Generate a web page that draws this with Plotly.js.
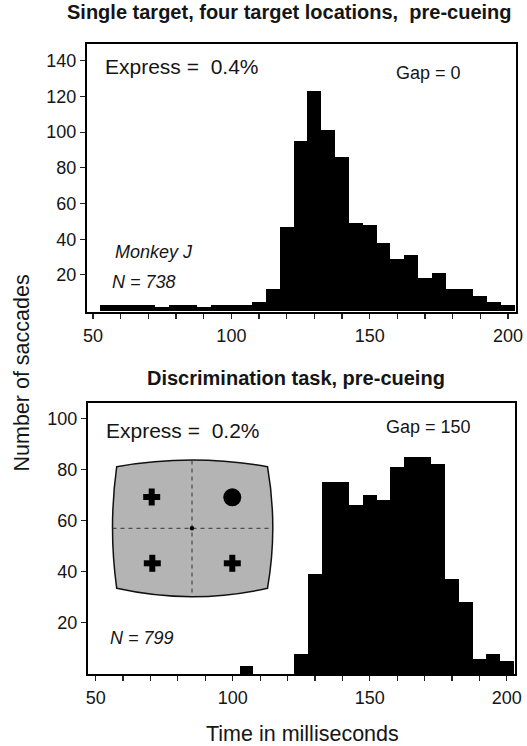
<!DOCTYPE html>
<html>
<head>
<meta charset="utf-8">
<script src="https://cdn.plot.ly/plotly-3.0.1.min.js"></script>
<style>html,body{margin:0;padding:0;background:#fff;}#chart{width:527px;height:746px;}</style>
</head>
<body>
<div id="chart"></div>
<script>
// ---- data (5 ms bins, bin centres in ms) ----
const binCenters = [55,60,65,70,75,80,85,90,95,100,105,110,115,120,125,130,135,140,145,150,155,160,165,170,175,180,185,190,195,200];
const topCounts = [3,3,3,3,2,3,3,2,3,3,3,5,12,47,95,123,101,86,49,48,38,29,31,18,21,12,12,8,5,3];
const bottomCounts = [0,0,0,0,0,0,0,0,0,0,3,0,0,0,8,39,75,75,66,70,68,81,85,85,82,37,28,6,8,5];
const xTickVals = [50,60,70,80,90,100,110,120,130,140,150,160,170,180,190,200];
const xTickText = ["50","","","","","100","","","","","150","","","","","200"];
const topYTicks = [20,40,60,80,100,120,140];
const bottomYTicks = [20,40,60,80,100];
const topTitle = "Single target, four target locations, \u00a0pre-cueing";
const bottomTitle = "Discrimination task, pre-cueing";
const topExpress = "Express = \u00a00.4%";
const bottomExpress = "Express = \u00a00.2%";
const topGap = "Gap = 0";
const bottomGap = "Gap = 150";
const monkey = "Monkey J";
const topN = "N = 738";
const bottomN = "N = 799";
const yTitle = "Number of saccades";
const xTitle = "Time in milliseconds";

// ---- layout helpers (pixel -> paper) ----
const W = 527, H = 746;
const M = {l: 87, r: 11, t: 44, b: 72};
const PW = W - M.l - M.r, PH = H - M.t - M.b;
const px = x => (x - M.l) / PW;
const py = y => (H - M.b - y) / PH;
const FONT = "Liberation Sans, Arial, Helvetica, sans-serif";
const TXT = "#151515";

const traces = [
  {type: "bar", x: binCenters, y: topCounts, xaxis: "x", yaxis: "y", width: 5,
   marker: {color: "#000", line: {width: 0}}, hoverinfo: "x+y"},
  {type: "bar", x: binCenters, y: bottomCounts, xaxis: "x2", yaxis: "y2", width: 5,
   marker: {color: "#000", line: {width: 0}}, hoverinfo: "x+y"}
];

function xAx(extra) {
  return Object.assign({
    tickmode: "array", tickvals: xTickVals, ticktext: xTickText,
    ticks: "outside", ticklen: 5, tickwidth: 1.2, tickcolor: "#222",
    showline: true, mirror: true, linewidth: 2, linecolor: "#000",
    showgrid: false, zeroline: false, ticklabelstandoff: 1,
    tickfont: {family: FONT, size: 18, color: TXT}
  }, extra);
}
function yAx(extra) {
  return Object.assign({
    tickmode: "array",
    ticks: "outside", ticklen: 5, tickwidth: 1.2, tickcolor: "#222",
    showline: true, mirror: true, linewidth: 2, linecolor: "#000",
    showgrid: false, zeroline: false,
    tickfont: {family: FONT, size: 18, color: TXT}
  }, extra);
}

function ann(text, x, y, opts) {
  return Object.assign({text: text, x: px(x), y: py(y), xref: "paper", yref: "paper",
    showarrow: false, xanchor: "center", yanchor: "middle",
    font: {family: FONT, size: 18, color: TXT}}, opts || {});
}

const annotations = [
  ann("<b>" + topTitle + "</b>", 289, 12, {font: {family: FONT, size: 20, color: TXT}}),
  ann("<b>" + bottomTitle + "</b>", 295.5, 378, {font: {family: FONT, size: 20, color: TXT}}),
  ann(topExpress, 103, 67, {xanchor: "left", font: {family: FONT, size: 21, color: TXT}}),
  ann(bottomExpress, 104, 430, {xanchor: "left", font: {family: FONT, size: 21, color: TXT}}),
  ann(topGap, 428, 73, {font: {family: FONT, size: 18, color: TXT}}),
  ann(bottomGap, 428, 427, {font: {family: FONT, size: 18, color: TXT}}),
  ann("<i>" + monkey + "</i>", 113, 252, {xanchor: "left", font: {family: FONT, size: 18, color: TXT}}),
  ann("<i>" + topN + "</i>", 110, 282, {xanchor: "left", font: {family: FONT, size: 18, color: TXT}}),
  ann("<i>" + bottomN + "</i>", 108, 638, {xanchor: "left", font: {family: FONT, size: 18, color: TXT}}),
  ann(yTitle, 21.5, 373, {textangle: -90, font: {family: FONT, size: 21.5, color: TXT}}),
  ann(xTitle, 302, 734, {font: {family: FONT, size: 21.5, color: TXT}})
];

// ---- inset schematic (decoration, pixel positions) ----
const L = 116.7, R = 267.5, T = 466.7, B = 588.3;
const insetPath = "M " + px(L) + "," + py(T) +
  " Q " + px((L + R) / 2) + "," + py(T - 2 * (T - 460)) + " " + px(R) + "," + py(T) +
  " Q " + px(R + 2 * (272.8 - R)) + "," + py((T + B) / 2) + " " + px(R) + "," + py(B) +
  " Q " + px((L + R) / 2) + "," + py(B + 2 * (596.7 - B)) + " " + px(L) + "," + py(B) +
  " Q " + px(L - 2 * (L - 112.5)) + "," + py((T + B) / 2) + " " + px(L) + "," + py(T) + " Z";
const cx = 192, cy = 528.3;
const shapes = [
  {type: "path", xref: "paper", yref: "paper", path: insetPath,
   fillcolor: "#b4b4b4", line: {color: "#111", width: 1.5}},
  {type: "line", xref: "paper", yref: "paper", x0: px(112.5), x1: px(272.8), y0: py(cy), y1: py(cy),
   line: {color: "#333", width: 1, dash: "4px,4px"}},
  {type: "line", xref: "paper", yref: "paper", x0: px(cx), x1: px(cx), y0: py(460.5), y1: py(596.5),
   line: {color: "#333", width: 1, dash: "4px,4px"}},
  {type: "circle", xref: "paper", yref: "paper", x0: px(cx - 2.2), x1: px(cx + 2.2), y0: py(cy - 2.2), y1: py(cy + 2.2),
   fillcolor: "#000", line: {width: 0}},
  {type: "circle", xref: "paper", yref: "paper", x0: px(232.3 - 9), x1: px(232.3 + 9), y0: py(497.3 - 9), y1: py(497.3 + 9),
   fillcolor: "#000", line: {width: 0}}
];
[[151.7, 497], [152.3, 563.3], [232.3, 563.3]].forEach(function (p) {
  shapes.push({type: "line", xref: "paper", yref: "paper", x0: px(p[0] - 8.5), x1: px(p[0] + 8.5), y0: py(p[1]), y1: py(p[1]),
    line: {color: "#000", width: 6}});
  shapes.push({type: "line", xref: "paper", yref: "paper", x0: px(p[0]), x1: px(p[0]), y0: py(p[1] - 8.5), y1: py(p[1] + 8.5),
    line: {color: "#000", width: 6}});
});

const layout = {
  width: W, height: H, margin: M, showlegend: false,
  paper_bgcolor: "#fff", plot_bgcolor: "#fff",
  bargap: 0,
  font: {family: FONT, color: TXT},
  xaxis: xAx({domain: [0, 1], anchor: "y", range: [47.8, 202.9]}),
  yaxis: yAx({domain: [1 - (312 - M.t) / PH, 1], anchor: "x", range: [-0.8, 149.4], tickvals: topYTicks}),
  xaxis2: xAx({domain: [px(88), px(515)], anchor: "y2", range: [47.2, 203.0]}),
  yaxis2: yAx({domain: [0, py(403)], anchor: "x2", range: [0, 106], tickvals: bottomYTicks}),
  annotations: annotations,
  shapes: shapes
};

Plotly.newPlot("chart", traces, layout, {displayModeBar: false, staticPlot: true});
</script>
</body>
</html>
